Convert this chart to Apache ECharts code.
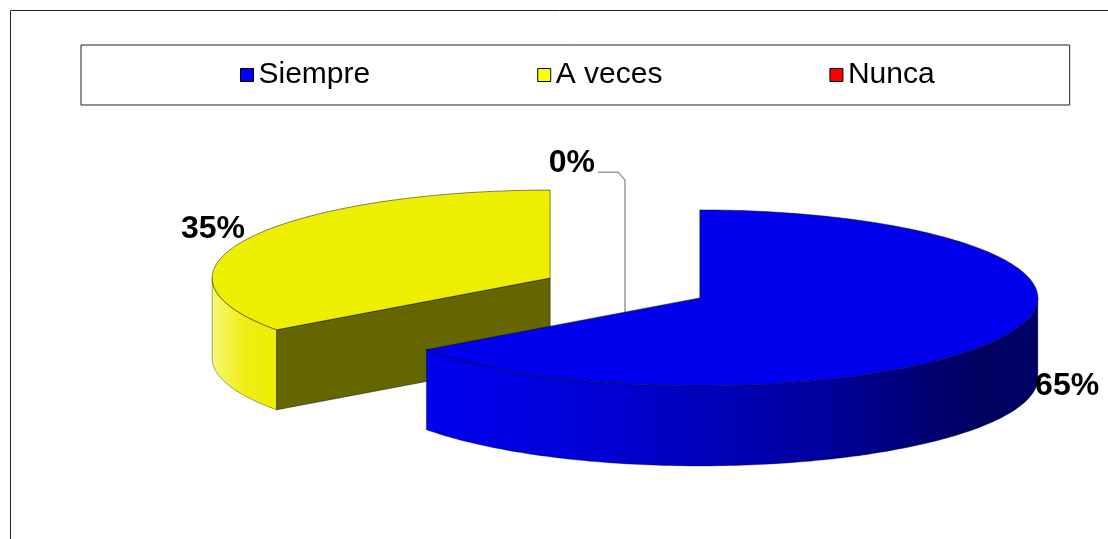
<!DOCTYPE html>
<html>
<head>
<meta charset="utf-8">
<script src="https://cdn.jsdelivr.net/npm/echarts@6/dist/echarts.min.js"></script>
<style>
  html, body { margin: 0; padding: 0; background: #fff; }
  #chart { width: 1108px; height: 539px; }
</style>
</head>
<body>
<div id="chart"></div>
<script>
// datos del grafico (porcentajes)
var categories = ['Siempre', 'A veces', 'Nunca'];
var values = [65, 35, 0];
var labels = ['65%', '35%', '0%'];

// colores
var legendColors = ['#0000FF', '#FFFF00', '#FF0000'];
var topColors = ['#0000EE', '#EEEE00', '#EE0000'];
var cutColors = ['#000070', '#666600', '#700000'];
var sideStops = [
  [[0, '#0000F0'], [0.3, '#0000D2'], [0.65, '#00009C'], [0.9, '#000060'], [1, '#000066']],
  [[0, '#F8F878'], [0.5, '#EEEE14'], [1, '#EEEE00']],
  [[0, '#FF6060'], [1, '#900000']]
];

// geometria del pastel 3D
var pie = { cx: 625, cy: 288, rx: 338, ry: 88, depth: 80, explode: 84 };
var FONT = '"Liberation Sans", Arial, sans-serif';

function rad(a) { return a * Math.PI / 180; }
function pt(c, a, f) {
  return [c[0] + pie.rx * f * Math.sin(rad(a)), c[1] - pie.ry * f * Math.cos(rad(a))];
}
function arc(c, from, to, dy) {
  var pts = [];
  var n = Math.max(2, Math.ceil(Math.abs(to - from)));
  for (var k = 0; k <= n; k++) {
    var p = pt(c, from + (to - from) * k / n, 1);
    pts.push([p[0], p[1] + dy]);
  }
  return pts;
}

var total = values.reduce(function (s, v) { return s + v; }, 0);
function startAngle(i) {
  var s = 0;
  for (var j = 0; j < i; j++) s += values[j];
  return s / total * 360;
}

function renderSlice(i) {
  return function (params, api) {
    var a0 = startAngle(i);
    var a1 = a0 + api.value(0) / total * 360;
    var mid = (a0 + a1) / 2;
    var c = [pie.cx + pie.explode * Math.sin(rad(mid)),
             pie.cy - pie.explode * Math.cos(rad(mid)) * pie.ry / pie.rx];
    var kids = [];
    var d = pie.depth;

    if (a1 > a0) {
      // cara lateral exterior (solo la parte frontal)
      var s0 = Math.max(a0, 90), s1 = Math.min(a1, 270);
      if (s1 > s0) {
        var side = arc(c, s0, s1, 0).concat(arc(c, s1, s0, d));
        kids.push({
          type: 'polygon',
          shape: { points: side },
          style: {
            fill: new echarts.graphic.LinearGradient(0, 0, 1, 0,
              sideStops[i].map(function (s) { return { offset: s[0], color: s[1] }; })),
            stroke: 'rgba(0,0,0,0.45)', lineWidth: 0.8
          }
        });
      }
      // caras de corte visibles
      [[a0, a0 - 90], [a1, a1 + 90]].forEach(function (e) {
        if (-Math.cos(rad(e[1])) > 0.001) {
          var p = pt(c, e[0], 1);
          kids.push({
            type: 'polygon',
            shape: { points: [c, p, [p[0], p[1] + d], [c[0], c[1] + d]] },
            style: { fill: cutColors[i], stroke: 'rgba(0,0,0,0.6)', lineWidth: 0.8 }
          });
        }
      });
      // cara superior
      kids.push({
        type: 'polygon',
        shape: { points: [c].concat(arc(c, a0, a1, 0)) },
        style: { fill: topColors[i], stroke: 'rgba(0,0,0,0.6)', lineWidth: 0.8 }
      });
    }

    // etiqueta
    var front = -Math.cos(rad(mid)) > 0;
    if (a1 > a0) {
      var lp = pt(c, mid, front ? 1.1 : 1.0);
      var right = Math.sin(rad(mid)) >= 0;
      kids.push({
        type: 'text', z2: 10,
        x: lp[0] + (right ? 4 : -4),
        y: lp[1] + (front ? d * 0.55 : -9),
        style: {
          text: labels[i], font: 'bold 32px ' + FONT, fill: '#000',
          align: right ? 'left' : 'right', verticalAlign: 'middle'
        }
      });
    } else {
      // porcion nula: etiqueta con linea guia
      var tp = pt(c, mid, 1.0);
      kids.push({
        type: 'polyline', z2: 5,
        shape: { points: [[tp[0], pie.cy + 24], [tp[0], tp[1] + 2], [tp[0] - 7, tp[1] - 6], [tp[0] - 27, tp[1] - 6]] },
        style: { stroke: '#9a9a9a', lineWidth: 1.5, fill: null }
      });
      kids.push({
        type: 'text', z2: 10,
        x: tp[0] - 30, y: tp[1] - 15,
        style: {
          text: labels[i], font: 'bold 32px ' + FONT, fill: '#000',
          align: 'right', verticalAlign: 'middle'
        }
      });
    }
    return { type: 'group', children: kids };
  };
}

var chart = echarts.init(document.getElementById('chart'));

var series = categories.map(function (name, i) {
  var a0 = startAngle(i), a1 = a0 + values[i] / total * 360;
  var mid = (a0 + a1) / 2;
  return {
    name: name,
    type: 'custom',
    coordinateSystem: 'none',
    z: 2 + Math.round((1 - Math.cos(rad(mid))) * 5),
    itemStyle: { color: legendColors[i] },
    data: [values[i]],
    renderItem: renderSlice(i)
  };
});

chart.setOption({
  animation: false,
  color: legendColors,
  graphic: [{
    type: 'rect', z: 0,
    shape: { x: 10.5, y: 10.5, width: 1200, height: 700 },
    style: { fill: null, stroke: '#222', lineWidth: 1 }
  }],
  legend: {
    data: categories,
    left: 81, top: 45,
    padding: [15, 135, 15, 159],
    itemGap: 167,
    itemWidth: 13, itemHeight: 13,
    icon: 'rect',
    itemStyle: { borderColor: '#000', borderWidth: 1 },
    borderColor: '#222', borderWidth: 1,
    textStyle: { fontFamily: FONT, fontSize: 30, color: '#000' },
    selectedMode: false
  },
  series: series
});
</script>
</body>
</html>
